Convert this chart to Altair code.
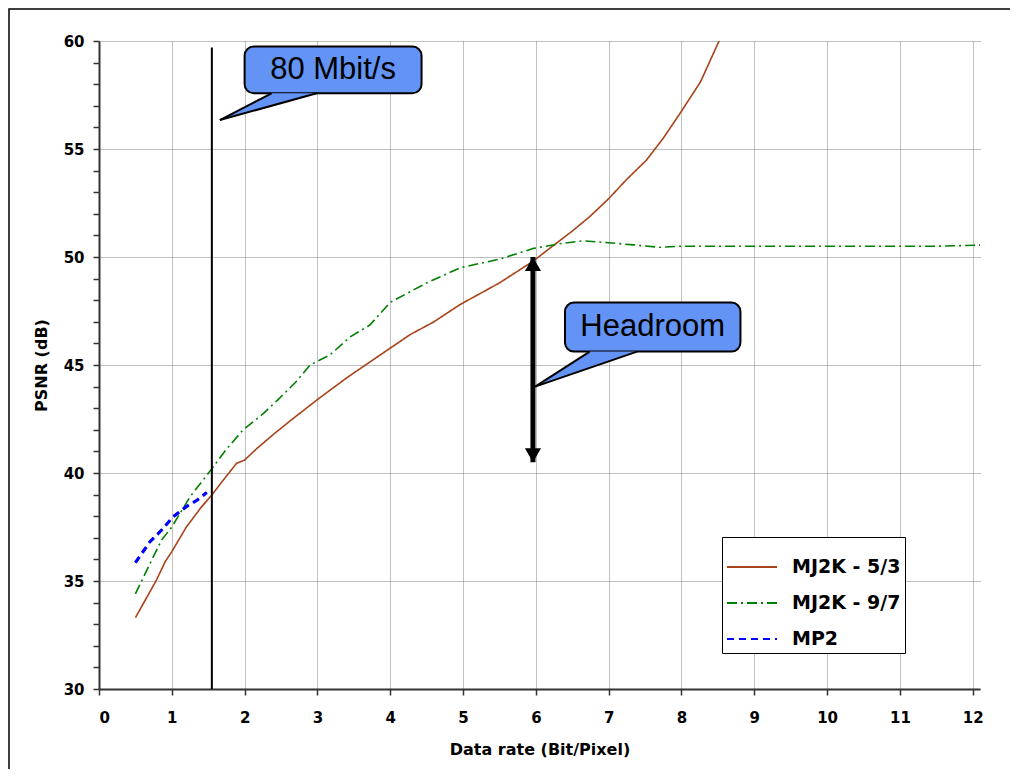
import altair as alt
import pandas as pd
import numpy as np

# ---------------- data ----------------
series_names = ["MJ2K - 5/3", "MJ2K - 9/7", "MP2"]
series_colors = ["#A8431A", "#008000", "#0000FF"]
series_dashes = [[1, 0], [10, 4, 2, 4], [7, 5]]

x53 = [0.5, 0.79, 0.91, 1.0, 1.2, 1.4, 1.55, 1.69, 1.89, 2.0, 2.17, 2.4, 2.62, 3.0, 3.4,
       3.86, 4.27, 4.6, 4.96, 5.5, 5.96, 6.19, 6.5, 6.74, 7.0, 7.25, 7.52, 7.75, 7.98, 8.26, 8.53]
y53 = [33.3, 35.05, 35.9, 36.36, 37.5, 38.4, 38.98, 39.6, 40.45, 40.6, 41.14, 41.8, 42.4, 43.4, 44.4,
       45.46, 46.4, 47.0, 47.8, 48.8, 49.8, 50.4, 51.2, 51.87, 52.7, 53.6, 54.49, 55.5, 56.65, 58.1, 60.1]

x97 = [0.5, 0.7, 0.86, 1.0, 1.25, 1.55, 1.75, 1.98, 2.26, 2.46, 2.7, 2.9, 3.17, 3.45, 3.72, 4.0,
       4.5, 4.96, 5.5, 5.97, 6.3, 6.65, 7.0, 7.34, 7.7, 8.0, 8.5, 9.0, 9.5, 10.0, 10.5, 11.0, 11.5, 12.1]
y97 = [34.4, 35.8, 36.9, 37.5, 38.9, 40.2, 41.1, 42.0, 42.76, 43.4, 44.2, 45.0, 45.46, 46.3, 46.85, 47.9,
       48.8, 49.5, 49.9, 50.4, 50.6, 50.75, 50.66, 50.56, 50.45, 50.5, 50.5, 50.5, 50.5, 50.5, 50.5, 50.5, 50.5, 50.55]

xmp2 = [0.5, 0.7, 0.86, 1.02, 1.2, 1.35, 1.48]
ymp2 = [35.85, 36.82, 37.36, 37.98, 38.44, 38.75, 39.1]

# annotations
vline_x = [1.55]
vline_y = [30.0]
vline_y2 = [59.7]

arrow_x = [5.96]
arrow_top = [50.0]
arrow_bot = [40.5]

callout_text = ["80 Mbit/s", "Headroom"]
callout_x1 = [2.0, 6.40]
callout_x2 = [4.43, 8.81]
callout_ytop = [59.74, 47.89]
callout_ybot = [57.58, 45.62]
tail_tip_x = [1.66, 5.99]
tail_tip_y = [56.34, 44.0]
tail_base_l = [2.37, 6.74]
tail_base_r = [2.99, 7.39]

x_ticks = [float(v) for v in np.arange(0, 12.01, 0.5)]
y_ticks = [float(v) for v in np.arange(30, 60.01, 1.0)]

# ---------------- tables ----------------
rows = []
for name, xs, ys in zip(series_names, [x53, x97, xmp2], [y53, y97, ymp2]):
    for xv, yv in zip(xs, ys):
        rows.append({"series": name, "rate": xv, "psnr": yv})
df = pd.DataFrame(rows)
df_mp2 = df[df.series == "MP2"]

df_vline = pd.DataFrame({"x": vline_x, "y": vline_y, "y2": vline_y2})
df_arrow = pd.DataFrame({"x": arrow_x, "top": arrow_top, "bot": arrow_bot})
df_box = pd.DataFrame({
    "text": callout_text, "x1": callout_x1, "x2": callout_x2,
    "yt": callout_ytop, "yb": callout_ybot,
    "tx": tail_tip_x, "ty": tail_tip_y, "bl": tail_base_l, "br": tail_base_r,
})
df_box["cx"] = (df_box.x1 + df_box.x2) / 2
df_box["cy"] = (df_box.yt + df_box.yb) / 2

# tail triangle as an area (tip -> base-left -> base-right)
tail_rows = []
for i, r in df_box.iterrows():
    frac = (r.bl - r.tx) / (r.br - r.tx)
    tail_rows.append({"cid": i, "x": r.tx, "y": r.ty, "y2": r.ty})
    tail_rows.append({"cid": i, "x": r.bl, "y": r.yb, "y2": r.ty + (r.yb - r.ty) * frac})
    tail_rows.append({"cid": i, "x": r.br, "y": r.yb, "y2": r.yb})
df_tail = pd.DataFrame(tail_rows)

# ---------------- scales / axes ----------------
XS = alt.Scale(domain=[0, 12.1], nice=False, zero=False)
YS = alt.Scale(domain=[30, 60], nice=False, zero=False)

FONT = "DejaVu Sans"
x_axis = alt.Axis(
    values=x_ticks,
    format="d",
    labelExpr="datum.value % 1 === 0 ? datum.label : ''",
    gridOpacity={"condition": {"test": "datum.value % 1 === 0", "value": 1}, "value": 0},
    labelOverlap=False,
    title="Data rate (Bit/Pixel)",
    labelPadding=15,
    titlePadding=16,
)
y_axis = alt.Axis(
    values=y_ticks,
    format="d",
    labelExpr="datum.value % 5 === 0 ? datum.label : ''",
    gridOpacity={"condition": {"test": "datum.value % 5 === 0", "value": 1}, "value": 0},
    labelOverlap=False,
    title="PSNR (dB)",
    labelPadding=9,
    titlePadding=14,
)


def X(field):
    return alt.X(field, type="quantitative", scale=XS, axis=x_axis)


def Y(field):
    return alt.Y(field, type="quantitative", scale=YS, axis=y_axis)


legend = alt.Legend(
    orient="none", legendX=623, legendY=496, title=None,
    fillColor="white", strokeColor="black", padding=4,
    symbolType="stroke", symbolSize=2500, symbolStrokeWidth=1.8,
    labelFont=FONT, labelFontWeight="bold", labelFontSize=19, labelColor="black",
    labelOffset=14, rowPadding=0, labelLimit=300,
)

lines = alt.Chart(df).mark_line(clip=True, strokeWidth=1.6).encode(
    x=X("rate"),
    y=Y("psnr"),
    color=alt.Color("series:N", scale=alt.Scale(domain=series_names, range=series_colors), legend=legend),
    strokeDash=alt.StrokeDash("series:N", scale=alt.Scale(domain=series_names, range=series_dashes), legend=legend),
    detail="series:N",
)

mp2_thick = alt.Chart(df_mp2).mark_line(clip=True, strokeWidth=3.2, color="#0000FF", strokeDash=[7, 5]).encode(
    x=X("rate"), y=Y("psnr")
)

vline = alt.Chart(df_vline).mark_rule(color="black", strokeWidth=2).encode(
    x=X("x"), y=Y("y"), y2="y2:Q"
)

shaft = alt.Chart(df_arrow).mark_rule(color="black", strokeWidth=5).encode(
    x=X("x"), y=Y("top"), y2="bot:Q"
)
head_up = alt.Chart(df_arrow).mark_point(shape="triangle-up", size=260, filled=True, color="black",
                                         opacity=1, yOffset=7).encode(
    x=X("x"), y=Y("top")
)
head_down = alt.Chart(df_arrow).mark_point(shape="triangle-down", size=260, filled=True, color="black",
                                           opacity=1, yOffset=-7).encode(
    x=X("x"), y=Y("bot")
)

CALLOUT_FILL = "#6393F5"
boxes = alt.Chart(df_box).mark_rect(fill=CALLOUT_FILL, stroke="black", strokeWidth=2, cornerRadius=9).encode(
    x=X("x1"), x2="x2:Q", y=Y("yt"), y2="yb:Q"
)
tails = alt.Chart(df_tail).mark_area(color=CALLOUT_FILL, opacity=1).encode(
    x=X("x"), y=Y("y"), y2="y2:Q", detail="cid:N"
)
tail_l = alt.Chart(df_box).mark_rule(color="black", strokeWidth=2).encode(
    x=X("tx"), y=Y("ty"), x2="bl:Q", y2="yb:Q"
)
tail_r = alt.Chart(df_box).mark_rule(color="black", strokeWidth=2).encode(
    x=X("tx"), y=Y("ty"), x2="br:Q", y2="yb:Q"
)
labels = alt.Chart(df_box).mark_text(font="Liberation Sans", fontSize=31, color="black",
                                     baseline="middle", align="center").encode(
    x=X("cx"), y=Y("cy"), text="text:N"
)

frame = alt.Chart(pd.DataFrame({"a": [0]})).mark_rect(filled=False, stroke="black", strokeWidth=1.5).encode(
    x=alt.value(-90), x2=alt.value(1000), y=alt.value(-32), y2=alt.value(800)
)

chart = alt.layer(
    frame, lines, mp2_thick, vline, shaft, head_up, head_down, boxes, tails, tail_l, tail_r, labels
).properties(
    width=881, height=648,
    autosize=alt.AutoSizeParams(type="none"),
    padding={"left": 91, "top": 33, "right": 30, "bottom": 80},
    background="white",
).configure_view(stroke=None).configure_axis(
    domainColor="#333333", domainWidth=2,
    tickColor="#333333", tickWidth=1.5, tickSize=6,
    gridColor="#808080", gridDash=[1, 1], gridWidth=1,
    labelFont=FONT, labelFontWeight="bold", labelFontSize=15, labelColor="black",
    titleFont=FONT, titleFontWeight="bold", titleFontSize=16, titleColor="black",
)

chart.save("out.html", embed_options={"renderer": "svg", "actions": False})
